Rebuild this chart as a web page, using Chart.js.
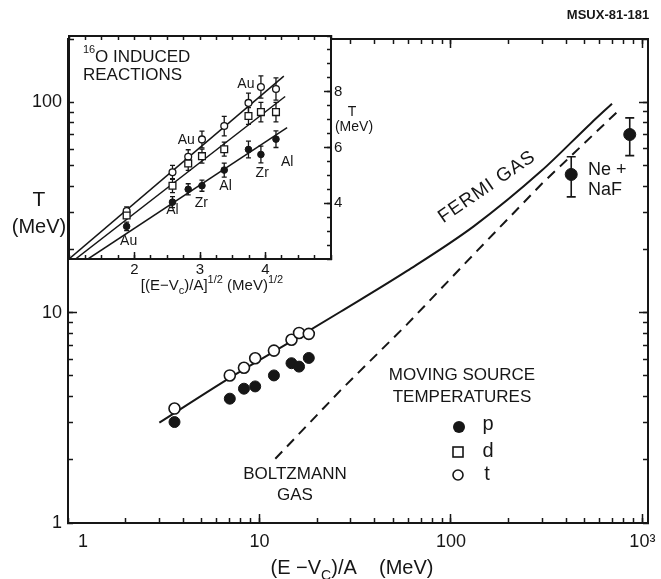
<!DOCTYPE html>
<html>
<head>
<meta charset="utf-8">
<title>Moving source temperatures</title>
<script src="https://cdn.jsdelivr.net/npm/chart.js"></script>
<style>
  body { margin: 0; background: #fff; }
  #wrap { position: relative; width: 661px; height: 579px; }
  #inset { position: absolute; left: 0; top: 0; }
</style>
</head>
<body>
<div id="wrap">
  <canvas id="main" width="661" height="579"></canvas>
  <canvas id="inset" width="380" height="310"></canvas>
</div>
<script>
// main panel, log-log: T against (E-Vc)/A
var energy = [3.6, 7.0, 8.3, 9.5, 11.9, 14.7, 16.1, 18.1];
var tempP = [3.02, 3.90, 4.35, 4.46, 5.03, 5.75, 5.54, 6.09];
var tempT = [3.50, 5.03, 5.47, 6.07, 6.60, 7.43, 8.01, 7.93];

var neEnergy = [425, 859];
var neTemp = [45.4, 70.3];
var neLow = [35.5, 55.8];
var neHigh = [55.1, 84.3];

var fermiE = [3.0, 7.0, 15.8, 26.5, 59, 132, 296, 541, 694];
var fermiT = [3.0, 4.9, 7.6, 10.1, 15.8, 25.8, 47.1, 79.8, 98.5];

var boltzE = [12.1, 26.5, 59.3, 132, 296, 776];
var boltzT = [2.02, 4.27, 8.84, 19.0, 40.7, 94.0];

var xTicks = [1, 2, 3, 4, 5, 6, 7, 8, 9, 10, 20, 30, 40, 50, 60, 70, 80, 90,
              100, 200, 300, 400, 500, 600, 700, 800, 900, 1000];
var xMajor = [10, 100, 1000];
var xLabels = { 10: '10', 100: '100', 1000: '10³' };
var yTicks = [1, 2, 3, 4, 5, 6, 7, 8, 9, 10, 20, 30, 40, 50, 60, 70, 80, 90, 100, 200];
var yMajor = [10, 100];
var yLabels = { 1: '1', 10: '10', 100: '100' };

// inset, linear: T against sqrt((E-Vc)/A), 16O induced reactions
var sqrtE = [1.88, 2.58, 2.82, 3.03, 3.37, 3.74, 3.93, 4.16];
var insetP = [3.17, 4.04, 4.50, 4.63, 5.19, 5.93, 5.75, 6.30];
var insetD = [3.56, 4.63, 5.43, 5.69, 5.94, 7.13, 7.27, 7.27];
var insetT = [3.72, 5.11, 5.67, 6.29, 6.77, 7.60, 8.17, 8.10];
var errP = [0.15, 0.2, 0.2, 0.2, 0.25, 0.3, 0.3, 0.3];
var errD = [0.1, 0.25, 0.25, 0.25, 0.25, 0.3, 0.35, 0.35];
var errT = [0.15, 0.25, 0.25, 0.3, 0.35, 0.35, 0.4, 0.4];

var fitPX = [1.29, 4.33], fitPY = [2.0, 6.71];
var fitDX = [1.10, 4.30], fitDY = [2.0, 7.83];
var fitTX = [1.00, 4.28], fitTY = [2.0, 8.56];

var targets = ['Au', 'Al', 'Zr', 'Al', 'Zr', 'Al', 'Au', 'Au'];
var targetX = [1.91, 2.58, 3.02, 3.39, 3.95, 4.33, 2.79, 3.70];
var targetY = [2.64, 3.75, 4.00, 4.60, 5.07, 5.46, 6.25, 8.29];

var insetXTicks = [1, 1.25, 1.5, 1.75, 2, 2.25, 2.5, 2.75, 3, 3.25, 3.5, 3.75, 4, 4.25, 4.5, 4.75, 5];
var insetXMajor = [2, 3, 4];
var insetXLabels = { 2: '2', 3: '3', 4: '4' };
var insetYTicks = [2, 2.5, 3, 3.5, 4, 4.5, 5, 5.5, 6, 6.5, 7, 7.5, 8, 8.5, 9, 9.5, 10];
var insetYMajor = [4, 6, 8];
var insetYLabels = { 4: '4', 6: '6', 8: '8' };
var insetLogTicks = [20, 30, 40, 50, 60, 70, 80, 90, 100, 200];

var FONT = "'Liberation Sans', Arial, sans-serif";
var INK = '#161616';

function pts(xs, ys) {
  return xs.map(function (x, i) { return { x: x, y: ys[i] }; });
}

function axis(pos, type, min, max, ticks, len, size, labels, fontSize, pad) {
  return {
    type: type, position: pos, min: min, max: max,
    weight: labels ? 0 : -1,
    afterBuildTicks: function (s) { s.ticks = ticks.map(function (v) { return { value: v }; }); },
    afterFit: function (s) {
      if (s.isHorizontal()) s.height = size; else s.width = size;
      // keep edge labels from shrinking the plot area
      s.paddingLeft = s.paddingRight = s.paddingTop = s.paddingBottom = 0;
    },
    border: { display: true, color: INK, width: 2 },
    grid: { drawOnChartArea: false, drawTicks: true, tickLength: -len, tickColor: INK, tickWidth: 1.5 },
    ticks: labels ? {
      autoSkip: false, maxRotation: 0, padding: pad, color: INK,
      font: { family: FONT, size: fontSize },
      callback: function (v) { return labels[v] || ''; }
    } : { display: false }
  };
}

function text(ctx, str, x, y, size, align, weight) {
  ctx.font = (weight ? weight + ' ' : '') + size + 'px ' + FONT;
  ctx.fillStyle = INK;
  ctx.textAlign = align || 'center';
  ctx.textBaseline = 'middle';
  ctx.fillText(str, x, y);
}

// parts: [string, 0 normal | 1 superscript | -1 subscript], y is the baseline
function rich(ctx, parts, x, y, size) {
  var small = Math.round(size * 0.7);
  var w = 0;
  parts.forEach(function (p) {
    ctx.font = (p[1] ? small : size) + 'px ' + FONT;
    w += ctx.measureText(p[0]).width;
  });
  var cx = x - w / 2;
  ctx.fillStyle = INK;
  ctx.textAlign = 'left';
  ctx.textBaseline = 'alphabetic';
  parts.forEach(function (p) {
    ctx.font = (p[1] ? small : size) + 'px ' + FONT;
    var dy = p[1] === 1 ? -size * 0.45 : (p[1] === -1 ? size * 0.28 : 0);
    ctx.fillText(p[0], cx, y + dy);
    cx += ctx.measureText(p[0]).width;
  });
}

var errorBars = {
  id: 'errorBars',
  beforeDatasetsDraw: function (chart, args, opts) {
    var ctx = chart.ctx, xs = chart.scales.x, ys = chart.scales.y;
    ctx.save();
    ctx.strokeStyle = INK;
    ctx.lineWidth = opts.width;
    chart.data.datasets.forEach(function (ds) {
      if (!ds.errLow) return;
      ds.data.forEach(function (p, j) {
        var px = xs.getPixelForValue(p.x);
        var lo = ys.getPixelForValue(ds.errLow[j]);
        var hi = ys.getPixelForValue(ds.errHigh[j]);
        ctx.beginPath();
        ctx.moveTo(px, lo); ctx.lineTo(px, hi);
        ctx.moveTo(px - opts.cap, lo); ctx.lineTo(px + opts.cap, lo);
        ctx.moveTo(px - opts.cap, hi); ctx.lineTo(px + opts.cap, hi);
        ctx.stroke();
      });
    });
    ctx.restore();
  }
};

var mainNotes = {
  id: 'mainNotes',
  afterDraw: function (chart) {
    var ctx = chart.ctx;
    ctx.save();
    // the "1" under the corner sits a little right of its tick in the original
    text(ctx, '1', chart.scales.x.getPixelForValue(1) + 15, 542, 18);
    text(ctx, 'MSUX-81-181', 608, 15, 13, 'center', 'bold');
    text(ctx, 'T', 39, 200, 21);
    text(ctx, '(MeV)', 39, 227, 20);
    rich(ctx, [['(E \u2212V', 0], ['C', -1], [')/A    (MeV)', 0]], 352, 574, 20);

    ctx.save();
    ctx.translate(487, 187);
    ctx.rotate(-34.5 * Math.PI / 180);
    ctx.letterSpacing = '1px';
    text(ctx, 'FERMI GAS', 0, 0, 19);
    ctx.restore();

    text(ctx, 'Ne +', 588, 170, 18, 'left');
    text(ctx, 'NaF', 588, 190, 18, 'left');
    text(ctx, 'MOVING SOURCE', 462, 375, 17);
    text(ctx, 'TEMPERATURES', 462, 397, 17);
    text(ctx, 'BOLTZMANN', 295, 474, 17);
    text(ctx, 'GAS', 295, 495, 17);

    // legend marks
    ctx.fillStyle = INK;
    ctx.strokeStyle = INK;
    ctx.lineWidth = 1.6;
    ctx.beginPath(); ctx.arc(459, 427, 6, 0, 2 * Math.PI); ctx.fill();
    ctx.strokeRect(453, 447, 10, 10);
    ctx.beginPath(); ctx.arc(458, 475, 5, 0, 2 * Math.PI); ctx.stroke();
    text(ctx, 'p', 488, 424, 20);
    text(ctx, 'd', 488, 451, 20);
    text(ctx, 't', 487, 474, 20);
    ctx.restore();
  }
};

new Chart(document.getElementById('main'), {
  type: 'scatter',
  data: {
    datasets: [
      { label: 'p', data: pts(energy, tempP), pointRadius: 5.5,
        pointBackgroundColor: INK, pointBorderColor: INK },
      { label: 't', data: pts(energy, tempT), pointRadius: 5.5, pointBorderWidth: 1.6,
        pointBackgroundColor: '#fff', pointBorderColor: INK },
      { label: 'Ne + NaF', data: pts(neEnergy, neTemp), pointRadius: 6,
        pointBackgroundColor: INK, pointBorderColor: INK, errLow: neLow, errHigh: neHigh },
      { label: 'Fermi gas', data: pts(fermiE, fermiT), showLine: true, pointRadius: 0,
        borderColor: INK, borderWidth: 2, cubicInterpolationMode: 'monotone' },
      { label: 'Boltzmann gas', data: pts(boltzE, boltzT), showLine: true, pointRadius: 0,
        borderColor: INK, borderWidth: 2, borderDash: [10, 7], tension: 0 }
    ]
  },
  options: {
    responsive: false, animation: false, events: [],
    layout: { padding: { left: 0, top: 39, right: 13, bottom: 0 } },
    scales: {
      x: axis('bottom', 'logarithmic', 1, 1070, xTicks, 5, 56, xLabels, 18, 13),
      xM: axis('bottom', 'logarithmic', 1, 1070, xMajor, 9, 0),
      xt: axis('top', 'logarithmic', 1, 1070, xTicks, 5, 0),
      xtM: axis('top', 'logarithmic', 1, 1070, xMajor, 9, 0),
      y: axis('left', 'logarithmic', 1, 200, yTicks, 5, 68, yLabels, 18, 11),
      yM: axis('left', 'logarithmic', 1, 200, yMajor, 9, 0),
      yr: axis('right', 'logarithmic', 1, 200, yTicks, 5, 0),
      yrM: axis('right', 'logarithmic', 1, 200, yMajor, 9, 0)
    },
    plugins: {
      legend: { display: false }, tooltip: { enabled: false },
      errorBars: { cap: 4.5, width: 1.6 }
    }
  },
  plugins: [errorBars, mainNotes]
});

var insetBack = {
  id: 'insetBack',
  beforeDraw: function (chart) {
    var a = chart.chartArea, ctx = chart.ctx;
    ctx.save();
    ctx.fillStyle = '#fff';
    ctx.fillRect(a.left, a.top, a.right - a.left, a.bottom - a.top);
    ctx.restore();
  }
};

var insetNotes = {
  id: 'insetNotes',
  afterDraw: function (chart) {
    var ctx = chart.ctx, xs = chart.scales.x, ys = chart.scales.y;
    ctx.save();
    text(ctx, '16', 83, 50, 11, 'left');
    text(ctx, 'O INDUCED', 95, 57, 17, 'left');
    text(ctx, 'REACTIONS', 83, 75, 17, 'left');
    targets.forEach(function (t, i) {
      text(ctx, t, xs.getPixelForValue(targetX[i]), ys.getPixelForValue(targetY[i]), 14);
    });
    text(ctx, 'T', 352, 112, 14);
    text(ctx, '(MeV)', 354, 127, 14);
    rich(ctx, [['[(E\u2212V', 0], ['c', -1], [')/A]', 0], ['1/2', 1], [' (MeV)', 0], ['1/2', 1]], 212, 290, 15);
    ctx.restore();
  }
};

function withErr(vals, errs, sign) {
  return vals.map(function (v, i) { return v + sign * errs[i]; });
}

new Chart(document.getElementById('inset'), {
  type: 'scatter',
  data: {
    datasets: [
      { label: 'p', data: pts(sqrtE, insetP), pointRadius: 3.3,
        pointBackgroundColor: INK, pointBorderColor: INK,
        errLow: withErr(insetP, errP, -1), errHigh: withErr(insetP, errP, 1) },
      { label: 'd', data: pts(sqrtE, insetD), pointStyle: 'rect', pointRadius: 4.8, pointBorderWidth: 1.3,
        pointBackgroundColor: '#fff', pointBorderColor: INK,
        errLow: withErr(insetD, errD, -1), errHigh: withErr(insetD, errD, 1) },
      { label: 't', data: pts(sqrtE, insetT), pointRadius: 3.4, pointBorderWidth: 1.3,
        pointBackgroundColor: '#fff', pointBorderColor: INK,
        errLow: withErr(insetT, errT, -1), errHigh: withErr(insetT, errT, 1) },
      { label: 'p fit', data: pts(fitPX, fitPY), showLine: true, pointRadius: 0, borderColor: INK, borderWidth: 1.5 },
      { label: 'd fit', data: pts(fitDX, fitDY), showLine: true, pointRadius: 0, borderColor: INK, borderWidth: 1.5 },
      { label: 't fit', data: pts(fitTX, fitTY), showLine: true, pointRadius: 0, borderColor: INK, borderWidth: 1.5 }
    ]
  },
  options: {
    responsive: false, animation: false, events: [],
    layout: { padding: { left: 0, top: 36, right: 0, bottom: 0 } },
    scales: {
      x: axis('bottom', 'linear', 1, 5, insetXTicks, 4, 51, insetXLabels, 15, 6),
      xM: axis('bottom', 'linear', 1, 5, insetXMajor, 7, 0),
      xt: axis('top', 'linear', 1, 5, insetXTicks, 4, 0),
      y: axis('right', 'linear', 2, 10, insetYTicks, 4, 49, insetYLabels, 15, 7),
      yM: axis('right', 'linear', 2, 10, insetYMajor, 7, 0),
      yl: axis('left', 'logarithmic', 18.0, 206.9, insetLogTicks, 5, 69)
    },
    plugins: {
      legend: { display: false }, tooltip: { enabled: false },
      errorBars: { cap: 2.5, width: 1.3 }
    }
  },
  plugins: [insetBack, errorBars, insetNotes]
});
</script>
</body>
</html>
